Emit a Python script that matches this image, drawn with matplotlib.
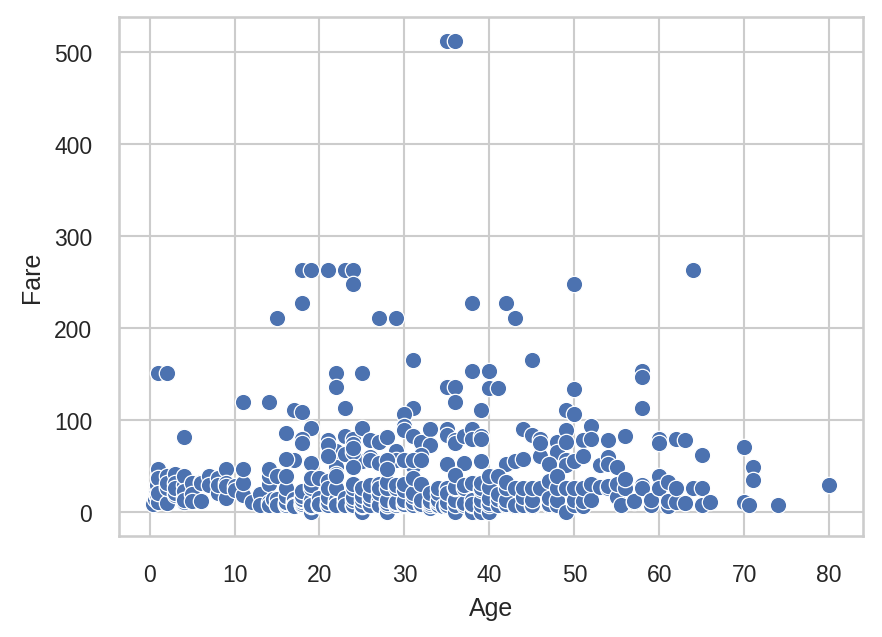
import matplotlib
matplotlib.use('Agg')
import matplotlib.pyplot as plt
import seaborn as sns
import pandas as pd

# values (Titanic: Age vs Fare)
top_age = [35, 35, 36, 18, 19, 21, 23, 24, 64, 24, 50,
           18, 38, 42, 15, 27, 29, 43, 31, 45,
           1, 2, 22, 25, 38, 40, 58, 58,
           22, 35, 36, 40, 41, 50, 11, 14, 36,
           17, 18, 23, 31, 39, 49, 58, 30, 50, 4]
top_fare = [512.33, 512.33, 512.33, 263, 263, 263, 263, 263, 263, 247.52, 247.52,
            227.53, 227.53, 227.53, 211.34, 211.5, 211.34, 211.5, 164.87, 164.87,
            151.55, 151.55, 151.55, 151.55, 153.46, 153.46, 153.46, 146.52,
            135.63, 135.63, 135.63, 134.5, 134.5, 133.65, 120, 120, 120,
            110.88, 108.9, 113.28, 113.28, 110.88, 110.88, 113.28, 106.43, 106.43, 81.86]

mid_age = [16, 19, 18, 18, 21, 22, 22, 23, 24, 24, 25, 26, 27, 28, 29,
           30, 30, 31, 32, 33, 33, 35, 35, 36, 36, 37, 38, 38, 39, 39,
           44, 45, 46, 48, 48, 49, 49, 51, 52, 52, 54, 56, 60, 60, 62, 63, 65, 70, 71, 71, 80,
           19, 17, 16, 22, 22, 24, 24, 25, 26, 27, 29, 31, 32, 35, 37, 39, 42, 43, 44,
           46, 47, 49, 49, 50, 51, 53, 54, 54, 55]
mid_fare = [86.5, 91.08, 79.65, 75.25, 77.96, 66.6, 55, 83.16, 79.2, 74, 91.08, 78.85, 76.73, 82.17, 66.6,
            93.5, 89.1, 83.16, 76.29, 90, 73.5, 90, 83.47, 78.85, 75.25, 83.16, 90, 80, 83.16, 79.65,
            90, 83.47, 79.2, 76.73, 65, 89.1, 76.73, 77.96, 93.5, 79.65, 78.27, 83.16, 79.2, 75.25, 80,
            77.96, 61.98, 71, 49.5, 34.65, 30,
            53.1, 57, 57.98, 49.5, 41.58, 50.5, 61.18, 55.9, 59.4, 53.1, 57, 50.5, 62, 52, 53.1, 55.9,
            52.55, 55.44, 57.98, 61.18, 52, 56.93, 51.48, 55.9, 61.38, 51.48, 59.4, 51.86, 49.5]

child_age = [0.42, 0.67, 0.75, 0.83, 0.92, 1, 1, 1, 1, 1, 2, 2, 2, 2, 2, 3, 3, 3, 3, 3,
             4, 4, 4, 4, 4, 4, 5, 5, 5, 6, 6, 6, 7, 7, 8, 8, 8, 9, 9, 9, 9, 10, 10,
             11, 11, 11, 12, 13, 13]
child_fare = [8.52, 14.5, 19.26, 29, 18.75, 11.13, 39.69, 46.9, 37, 20.58, 10.46, 27.9, 39.69, 26,
              31.28, 18.75, 41.58, 31.39, 21.08, 26, 16.7, 29.13, 39.69, 11.13, 23, 13.42,
              31.39, 19.26, 12.48, 33, 31.28, 12.48, 39.69, 29.13, 21.07, 36.75, 29.13,
              46.9, 31.39, 15.25, 27.9, 27.9, 24.15, 18.79, 31.28, 46.9, 11.24, 19.5, 7.23]

young_age = [14, 14, 14, 14, 14, 14.5, 15, 15, 15, 15, 16, 16, 16, 16, 16, 16, 16,
             17, 17, 17, 17, 17, 17, 17, 18, 18, 18, 18, 18, 18, 18, 18, 18,
             19, 19, 19, 19, 19, 19, 19, 19, 19, 19, 20, 20, 20, 20, 20, 20, 20,
             21, 21, 21, 21, 21, 21, 21, 21, 21, 22, 22, 22, 22, 22, 22, 22, 22, 22,
             23, 23, 23, 23, 23, 23, 23, 24, 24, 24, 24, 24, 24, 24, 24, 24, 24,
             25, 25, 25, 25, 25, 25, 25, 25, 26, 26, 26, 26, 26, 26, 26,
             27, 27, 27, 27, 27, 27, 27, 27, 28, 28, 28, 28, 28, 28, 28, 28, 28]
young_fare = [30.07, 11.24, 7.85, 39.69, 46.9, 14.45, 8.03, 14.45, 7.23, 39,
              7.75, 8.05, 9.5, 10.5, 18, 26, 39.69, 7.9, 8.66, 10.5, 12, 14.46, 7.23, 7.13,
              7.75, 7.8, 8.05, 9.35, 11.5, 13, 14.45, 17.8, 23,
              0, 7.88, 8.05, 6.75, 10.5, 13, 26, 30, 36.75, 7.65,
              7.85, 8.05, 9.5, 7.92, 15.74, 36.75, 9.23,
              7.75, 8.05, 7.8, 11.5, 73.5, 34.38, 16.1, 26, 61.38,
              7.25, 7.8, 9, 10.52, 13, 26, 39.69, 7.52, 7.9,
              7.85, 8.05, 10.5, 13, 15.05, 63.36, 7.55,
              7.14, 7.5, 8.05, 13, 16.7, 26, 31, 65, 69.3, 49.5,
              0, 7.05, 7.65, 7.9, 13, 17.8, 26, 26.55,
              7.78, 7.89, 8.05, 14.45, 18.79, 30, 56.5,
              7.79, 10.5, 13, 7.92, 21, 30.5, 26, 53.1,
              0, 7.25, 7.9, 9.5, 13, 26, 33, 56.5, 47.1]

adult_age = [29, 29, 29, 29, 29, 29, 30, 30, 30, 30, 30, 30, 30, 31, 31, 31, 31, 31, 31, 31,
             32, 32, 32, 32, 32, 32, 33, 33, 33, 33, 33, 34, 34, 34, 34, 34, 34, 34.5,
             35, 35, 35, 35, 35, 35, 36, 36, 36, 36, 36, 36, 36, 37, 37, 37, 37, 38, 38, 38, 38, 38,
             39, 39, 39, 39, 39, 39, 40, 40, 40, 40, 40, 40, 41, 41, 41, 41, 42, 42, 42, 42, 42,
             43, 43, 43, 44, 44, 44, 45, 45, 45, 45, 46, 46, 47, 47, 47, 47, 48, 48, 48, 48]
adult_fare = [7.78, 7.75, 9.48, 10.5, 26, 30, 7.23, 8.66, 12.48, 13, 24.15, 31, 56.93,
              7.75, 7.85, 10.5, 18, 20.53, 37, 57,
              7.75, 7.93, 8.36, 13, 30.5, 56.5, 5, 7.9, 9.5, 12.28, 20.53,
              6.5, 8.05, 10.5, 13, 21, 26.55, 6.44,
              7.05, 8.05, 10.5, 26, 26.29, 20.25, 0, 7.5, 12.88, 13, 26, 27.75, 40.13,
              7.92, 9.59, 26, 29.7, 0, 7.9, 13, 31.39, 8.66,
              0, 7.93, 13, 24.15, 26, 31.28, 0, 7.9, 9.48, 15.5, 27.72, 39,
              7.85, 14.11, 20.21, 39.69, 7.55, 8.66, 13, 26, 32.5,
              6.45, 8.05, 26.25, 7.93, 16.1, 26, 6.98, 8.05, 13.5, 26.55, 26, 75.24,
              7.25, 9, 15, 34.02, 7.85, 13, 25.93, 39.6]

senior_age = [49, 49, 49, 50, 50, 50, 51, 51, 51, 52, 52, 53, 54, 54, 55, 55, 55.5, 56, 56,
              57, 57, 58, 58, 59, 59, 60, 60, 61, 61, 61, 62, 62, 63, 64, 64, 65, 65, 66,
              70, 70.5, 74]
senior_fare = [0, 25.93, 26, 8.05, 13, 26, 7.05, 12.52, 26.55, 13.5, 30.5, 27.45, 26, 28.5,
               16, 30.5, 8.05, 26.55, 35.5, 10.5, 12.35, 29.7, 26.55, 7.25, 13.5,
               39, 26.55, 6.24, 12.35, 32.32, 10.5, 26.55, 9.59, 26, 26.55, 7.75, 26.55, 10.5,
               10.5, 7.75, 7.78]


def build_frame():
    ages = top_age + mid_age + child_age + young_age + adult_age + senior_age
    fares = top_fare + mid_fare + child_fare + young_fare + adult_fare + senior_fare
    return pd.DataFrame({'Age': ages, 'Fare': fares})


def main():
    df = build_frame()

    sns.set_theme(style='whitegrid')
    plt.rcParams['font.family'] = ['Liberation Sans', 'DejaVu Sans']

    fig = plt.figure(figsize=(5.88, 4.2533), dpi=150)
    ax = fig.add_axes([0.1353, 0.1588, 0.8432, 0.8125])
    sns.scatterplot(data=df, x='Age', y='Fare', ax=ax, s=62, linewidth=0.6)

    ax.set_xticks([0, 10, 20, 30, 40, 50, 60, 70, 80])
    ax.set_yticks([0, 100, 200, 300, 400, 500])
    ax.tick_params(pad=7)
    ax.xaxis.labelpad = 5
    ax.yaxis.labelpad = 5

    fig.savefig('out.png', dpi=150)


if __name__ == '__main__':
    main()
